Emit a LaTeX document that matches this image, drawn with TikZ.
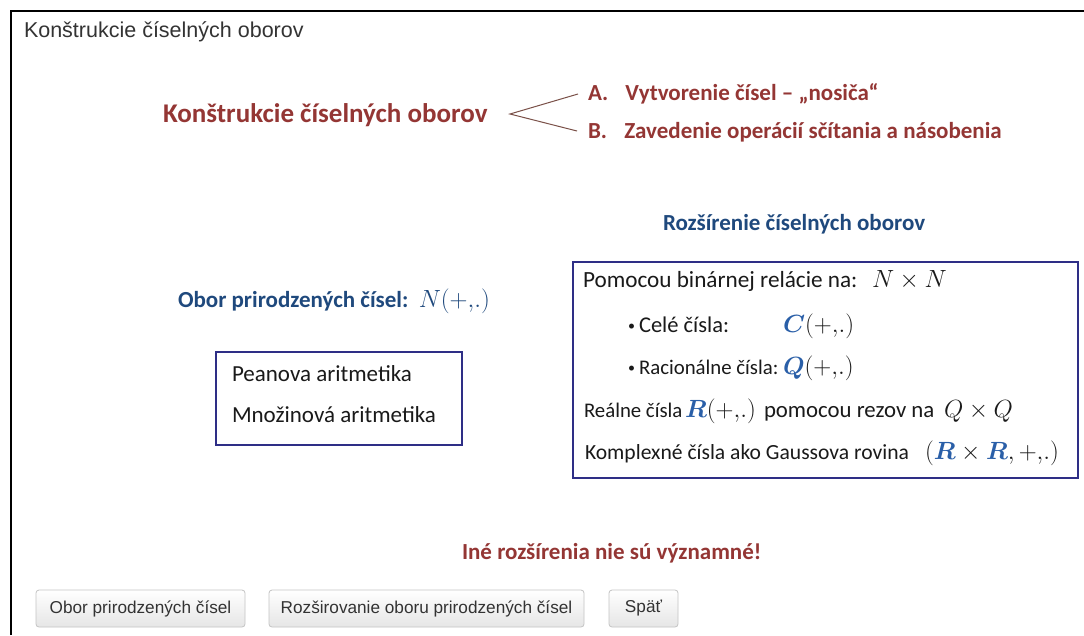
\documentclass[tikz,border=0pt]{standalone}
\usepackage{fontspec}
\usepackage{amsmath,bm}
\setmainfont{Carlito}
\newfontfamily\arialf{Liberation Sans}
\definecolor{redt}{HTML}{943634}
\definecolor{bluet}{HTML}{1F497D}
\definecolor{mblue}{HTML}{2A5FA8}
\definecolor{boxc}{HTML}{2E2E86}
\definecolor{txt}{HTML}{1A1A1A}
\definecolor{btnb}{HTML}{C4C4C4}
\definecolor{brk}{HTML}{7A5048}
\newcommand{\ops}{(+{,}.)}
\newcommand{\fs}[1]{\fontsize{#1}{#1}\selectfont}
\begin{document}
\begin{tikzpicture}[x=1pt,y=-1pt,
  every node/.style={inner sep=0pt,outer sep=0pt},
  lbl/.style={anchor=base west,text=txt,font=\fs{23}},
  redh/.style={anchor=base west,text=redt,font=\fs{23}\bfseries},
  blueh/.style={anchor=base west,text=bluet,font=\fs{23}\bfseries},
  bul/.style={anchor=base west,text=txt,font=\fs{14}},
  framebox/.style={draw=boxc,line width=1.6pt},
  btn/.style={draw=btnb,rounded corners=3pt,top color=white,bottom color=black!10,line width=0.8pt},
  btntext/.style={text=black!80,font=\arialf\fs{17.2}}]
\useasboundingbox (0,0) rectangle (1084,635);
\fill[white] (0,0) rectangle (1084,635);
% page frame
\draw[line width=2.6pt,black] (11,635) -- (11,11) -- (1084,11);
\node[anchor=base west,text=black!80,font=\arialf\fs{21.5}] (title) at (24,37) {Konštrukcie číselných oborov};
% red heading + bracket
\node[anchor=base west,text=redt,font=\fs{27}\bfseries] (kco) at (163,122) {Konštrukcie číselných oborov};
\coordinate (v) at (510,114);
\node[redh] (a) at (588,100) {A.\hspace{0.75em}Vytvorenie čísel – „nosiča“};
\node[redh] (b) at (588,138) {B.\hspace{0.75em}Zavedenie operácií sčítania a násobenia};
\draw[brk,line width=1pt] (578,94) -- (v) -- (577,131);
% right part
\node[blueh] (roz) at (663,230) {Rozšírenie číselných oborov};
\draw[framebox] (573,262) rectangle (1078,478);
\node[lbl,font=\fs{23.2}] (p1) at (583,287) {Pomocou binárnej relácie na:};
\node[lbl] (p1m) at (872,287) {$N\times N$};
\node[bul] (bul1) at (628,330) {\textbullet};
\node[lbl,font=\fs{22.5}] (p2) at (639,332) {Celé čísla:};
\node[lbl] (p2m) at (783,332) {${\color{mblue}\bm{C}}\ops$};
\node[bul] (bul2) at (628,372) {\textbullet};
\node[lbl,font=\fs{20.8}] (p3) at (639,374) {Racionálne čísla:};
\node[lbl] (p3m) at (783,374) {${\color{mblue}\bm{Q}}\ops$};
\node[lbl,font=\fs{20.8}] (p4) at (584,417) {Reálne čísla};
\node[lbl] (p4m) at (685,417) {${\color{mblue}\bm{R}}\ops$};
\node[lbl,font=\fs{22.8}] (p4b) at (764,417) {pomocou rezov na};
\node[lbl] (p4c) at (944,417) {$Q\times Q$};
\node[lbl,font=\fs{21.6}] (p5) at (585,459) {Komplexné čísla ako Gaussova rovina};
\node[lbl,font=\fs{24.8}] (p5m) at (925,459) {$({\color{mblue}\bm{R}}\times{\color{mblue}\bm{R}},+{,}.)$};
% left part
\node[blueh] (obor) at (178,307) {Obor prirodzených čísel:\ \ $N\ops$};
\draw[framebox] (216,352) rectangle (462,445);
\node[lbl] (pea) at (232,381) {Peanova aritmetika};
\node[lbl] (mno) at (232,422) {Množinová aritmetika};
% bottom
\node[redh] (ine) at (462,559) {Iné rozšírenia nie sú významné!};
\draw[btn] (36,590) rectangle (245,627);
\node[btntext] (b1) at (140.5,608.5) {Obor prirodzených čísel};
\draw[btn] (269,590) rectangle (584,627);
\node[btntext] (b2) at (426.5,608.5) {Rozširovanie oboru prirodzených čísel};
\draw[btn] (609,590) rectangle (678,627);
\node[btntext] (b3) at (643.5,608.5) {Späť};
\end{tikzpicture}
\end{document}
